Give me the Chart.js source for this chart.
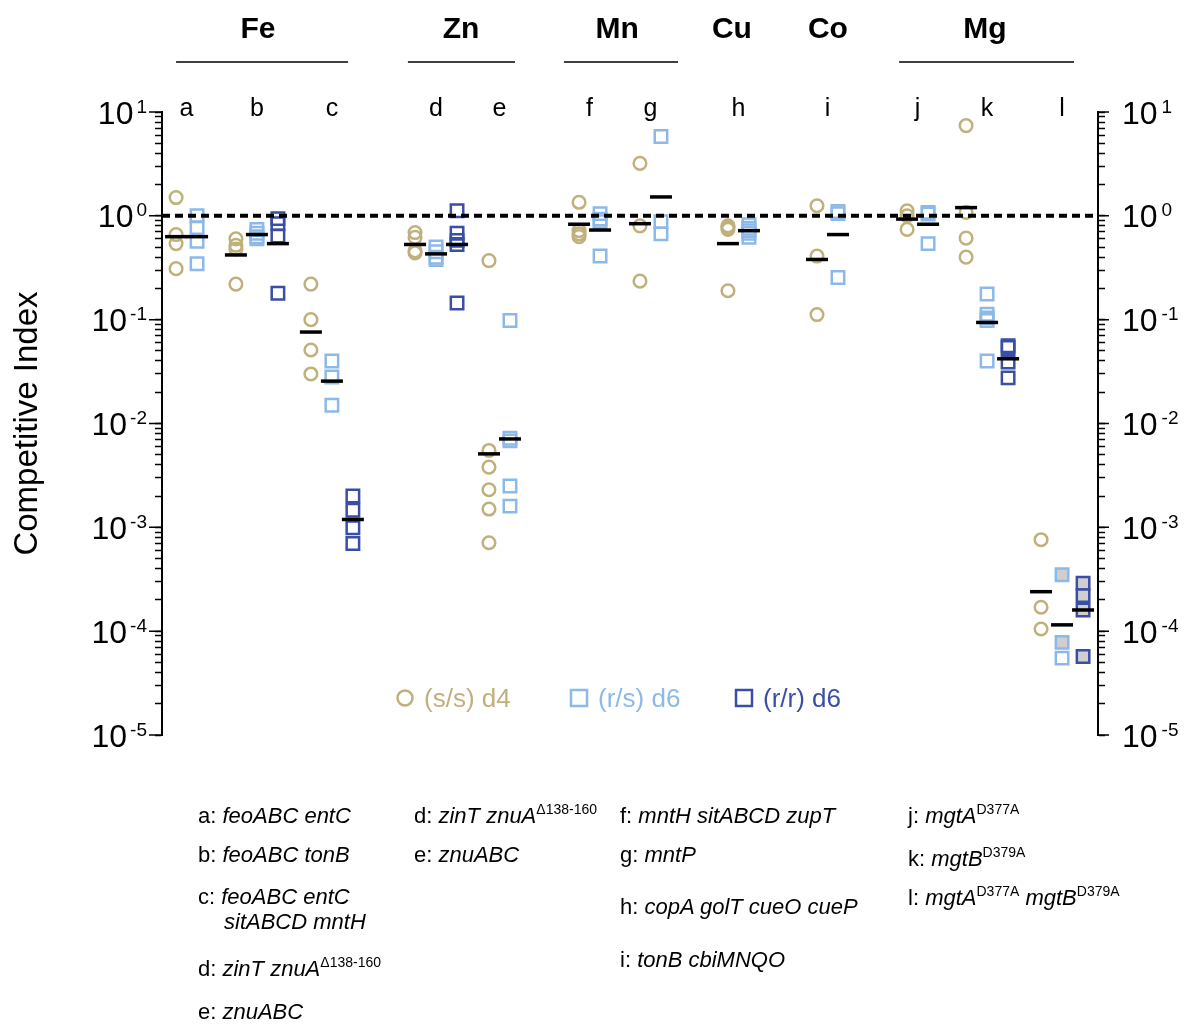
<!DOCTYPE html>
<html>
<head>
<meta charset="utf-8">
<script src="https://cdn.jsdelivr.net/npm/chart.js@4.4.1/dist/chart.umd.min.js"></script>
<style>
  html, body { margin: 0; padding: 0; background: #fff; }
  #wrap { position: relative; width: 1191px; height: 1024px; }
  #chart { position: absolute; left: 0; top: 0; }
  .note { position: absolute; font: 22px "Liberation Sans", Arial, sans-serif; line-height: 22px; white-space: nowrap; color: #000; }
  .note sup { font-size: 14px; font-style: normal; vertical-align: 9px; line-height: 0; }
</style>
</head>
<body>
<div id="wrap">
  <canvas id="chart" width="1191" height="1024" style="width:1191px;height:1024px"></canvas>

  <div class="note" style="left:198px;top:805px">a: <i>feoABC entC</i></div>
  <div class="note" style="left:198px;top:844px">b: <i>feoABC tonB</i></div>
  <div class="note" style="left:198px;top:886px">c: <i>feoABC entC</i></div>
  <div class="note" style="left:224px;top:911px"><i>sitABCD mntH</i></div>
  <div class="note" style="left:198px;top:958px">d: <i>zinT znuA</i><sup>Δ138-160</sup></div>
  <div class="note" style="left:198px;top:1001px">e: <i>znuABC</i></div>

  <div class="note" style="left:414px;top:805px">d: <i>zinT znuA</i><sup>Δ138-160</sup></div>
  <div class="note" style="left:414px;top:844px">e: <i>znuABC</i></div>

  <div class="note" style="left:620px;top:805px">f: <i>mntH sitABCD zupT</i></div>
  <div class="note" style="left:620px;top:844px">g: <i>mntP</i></div>
  <div class="note" style="left:620px;top:896px">h: <i>copA golT cueO cueP</i></div>
  <div class="note" style="left:620px;top:949px">i: <i>tonB cbiMNQO</i></div>

  <div class="note" style="left:908px;top:805px">j: <i>mgtA</i><sup>D377A</sup></div>
  <div class="note" style="left:908px;top:848px">k: <i>mgtB</i><sup>D379A</sup></div>
  <div class="note" style="left:908px;top:887px">l: <i>mgtA</i><sup>D377A</sup> <i>mgtB</i><sup>D379A</sup></div>
</div>

<script>
// --- data ---
const categories = ['a', 'b', 'c', 'd', 'e', 'f', 'g', 'h', 'i', 'j', 'k', 'l']

// (s/s) d4, circles
const ssD4 = [
  [1.5, 0.66, 0.54, 0.31],
  [0.6, 0.52, 0.48, 0.22],
  [0.22, 0.1, 0.051, 0.03],
  [0.69, 0.62, 0.46, 0.44],
  [0.37, 0.0055, 0.0038, 0.0023, 0.0015, 0.00071],
  [1.35, 0.72, 0.67, 0.63],
  [3.2, 0.8, 0.235],
  [0.8, 0.77, 0.74, 0.19],
  [1.25, 0.41, 0.112],
  [1.12, 1.0, 0.74],
  [7.4, 1.08, 0.61, 0.4],
  [7.6e-4, 1.7e-4, 1.05e-4]
]
const ssD4Median = [0.63, 0.42, 0.076, 0.53, 0.0051, 0.83, 0.84, 0.54, 0.38, 0.93, 1.2, 2.4e-4]

// (r/s) d6, light squares
const rsD6 = [
  [1.0, 0.77, 0.57, 0.345],
  [0.74, 0.68, 0.63, 0.6],
  [0.04, 0.028, 0.015],
  [0.5, 0.45, 0.4, 0.38],
  [0.098, 0.0072, 0.0068, 0.0025, 0.0016],
  [1.05, 0.93, 0.88, 0.41],
  [5.8, 0.88, 0.67],
  [0.82, 0.76, 0.72, 0.68, 0.62],
  [1.1, 1.05, 0.255],
  [1.08, 1.04, 0.54],
  [0.177, 0.113, 0.104, 0.098, 0.04],
  [3.5e-4, 7.8e-5, 5.5e-5]
]
const rsD6Median = [0.63, 0.66, 0.0256, 0.43, 0.0071, 0.73, 1.52, 0.72, 0.66, 0.83, 0.094, 1.15e-4]

// (r/r) d6, dark squares
const rrD6 = [
  [],
  [0.94, 0.84, 0.64, 0.18],
  [0.002, 0.00146, 0.00099, 0.0007],
  [1.12, 0.68, 0.58, 0.53, 0.145],
  [], [], [], [], [], [],
  [0.056, 0.054, 0.039, 0.0275],
  [2.9e-4, 2.2e-4, 1.6e-4, 5.7e-5]
]
const rrD6Median = [null, 0.54, 0.00119, 0.53, null, null, null, null, null, null, 0.042, 1.6e-4]

// points drawn with a grey fill (series-category : point indexes)
const shaded = { 'rs-l': [0, 1], 'rr-l': [0, 1, 2, 3] }

const seriesLabels = ['(s/s) d4', '(r/s) d6', '(r/r) d6']
const tickExponents = [1, 0, -1, -2, -3, -4, -5]
const groupNames = ['Fe', 'Zn', 'Mn', 'Cu', 'Co', 'Mg']

// --- layout ---
const FONT = '"Liberation Sans", Arial, sans-serif'
const TAN = '#c0b07b'
const LIGHT = '#8cb9e7'
const DARK = '#3a4ea6'
const GRAY = '#cfcfcf'
const SLOT = 21                 // px per x unit
const X_MAX = 936 / SLOT
// x of each category's first series
const catSlot = [0.67, 3.52, 7.09, 12.05, 15.57, 19.86, 22.76, 26.95, 31.19, 35.48, 38.29, 41.86]
// group label x, underline from / to (x units, null = no line)
const groupLayout = [
  [4.57, 0.67, 8.86], [14.24, 11.71, 16.81], [21.67, 19.14, 24.57],
  [27.14, null, null], [31.71, null, null], [39.19, 35.1, 43.43]
]

Chart.defaults.font.family = FONT
Chart.defaults.color = '#000'

const seriesValues = [ssD4, rsD6, rrD6]
const seriesMedians = [ssD4Median, rsD6Median, rrD6Median]
const seriesKeys = ['ss', 'rs', 'rr']
const nSeries = categories.map((c, i) => seriesValues.filter(s => s[i].length).length)

function toPoints(s) {
  const pts = []
  seriesValues[s].forEach((vals, i) => {
    const sh = shaded[seriesKeys[s] + '-' + categories[i]] || []
    vals.forEach((v, j) => pts.push({ x: catSlot[i] + s, y: v, shaded: sh.includes(j) }))
  })
  return pts
}

const medianPoints = []
seriesMedians.forEach((meds, s) => meds.forEach((m, i) => {
  if (m != null) medianPoints.push({ x: catSlot[i] + s, y: m })
}))

function pointSet(s, color, style, radius) {
  return {
    type: 'scatter',
    label: seriesLabels[s],
    data: toPoints(s),
    pointStyle: style,
    pointRadius: radius,
    pointHoverRadius: radius,
    pointBorderWidth: 2.5,
    pointHoverBorderWidth: 2.5,
    borderColor: color,
    pointBorderColor: color,
    pointBackgroundColor: c => (c.raw && c.raw.shaded) ? GRAY : 'rgba(0,0,0,0)',
    clip: false,
    order: 3
  }
}

function logTicks() {
  const t = []
  for (let e = -5; e < 1; e++) {
    for (let k = 1; k < 10; k++) t.push({ value: k * Math.pow(10, e) })
  }
  t.push({ value: 10 })
  return t
}

const decorations = {
  id: 'decorations',
  afterDraw(chart) {
    const { ctx, chartArea, scales: { x, y } } = chart
    ctx.save()
    ctx.strokeStyle = '#000'
    ctx.fillStyle = '#000'

    // longer major ticks + labels on both axes
    ctx.lineWidth = 1.5
    tickExponents.forEach(e => {
      const py = y.getPixelForValue(Math.pow(10, e))
      ctx.beginPath()
      ctx.moveTo(chartArea.left - 13, py); ctx.lineTo(chartArea.left, py)
      ctx.moveTo(chartArea.right, py); ctx.lineTo(chartArea.right + 11, py)
      ctx.stroke()

      const sup = String(e)
      ctx.font = '32px ' + FONT
      const wBase = ctx.measureText('10').width
      ctx.font = '19px ' + FONT
      const wSup = ctx.measureText(sup).width
      ctx.textAlign = 'left'
      ctx.textBaseline = 'alphabetic'
      // left
      let xs = 147 - wSup
      ctx.fillText(sup, xs, py + 0.5)
      ctx.font = '32px ' + FONT
      ctx.fillText('10', xs - 3 - wBase, py + 11.5)
      // right
      const xr = chartArea.right + 24
      ctx.fillText('10', xr, py + 11.5)
      ctx.font = '19px ' + FONT
      ctx.fillText(sup, xr + wBase + 4, py + 0.5)
    })

    // category letters
    ctx.font = '25px ' + FONT
    ctx.textAlign = 'center'
    categories.forEach((c, i) => {
      ctx.fillText(c, x.getPixelForValue(catSlot[i] + (nSeries[i] - 1) / 2), 116)
    })

    // metal groups
    ctx.font = 'bold 30px ' + FONT
    ctx.lineWidth = 1.5
    groupNames.forEach((g, i) => {
      const [lx, from, to] = groupLayout[i]
      ctx.fillText(g, x.getPixelForValue(lx), 38)
      if (from != null) {
        ctx.beginPath()
        ctx.moveTo(x.getPixelForValue(from), 62)
        ctx.lineTo(x.getPixelForValue(to), 62)
        ctx.stroke()
      }
    })

    // legend inside the plot
    const legX = [405, 579, 744]
    const colors = [TAN, LIGHT, DARK]
    ctx.font = '26px ' + FONT
    ctx.textAlign = 'left'
    ctx.lineWidth = 2.5
    seriesLabels.forEach((lab, s) => {
      ctx.strokeStyle = colors[s]
      ctx.fillStyle = colors[s]
      ctx.beginPath()
      if (s === 0) ctx.arc(legX[s], 698, 7.5, 0, Math.PI * 2)
      else ctx.rect(legX[s] - 8, 690, 16, 16)
      ctx.stroke()
      ctx.fillText(lab, legX[s] + 19, 707)
    })
    ctx.restore()
  }
}

const yCommon = {
  type: 'logarithmic',
  min: 1e-5,
  max: 10,
  afterBuildTicks: scale => { scale.ticks = logTicks() },
  ticks: { display: false, autoSkip: false },
  grid: { drawOnChartArea: false, drawTicks: true, tickLength: 7, tickColor: '#000', tickWidth: 1.5 },
  border: { color: '#000', width: 2 }
}

new Chart(document.getElementById('chart'), {
  data: {
    datasets: [
      {
        type: 'line',
        data: [{ x: 0, y: 1 }, { x: X_MAX, y: 1 }],
        borderColor: '#000',
        borderWidth: 4,
        borderDash: [8, 5],
        pointRadius: 0,
        order: 0
      },
      {
        type: 'scatter',
        data: medianPoints,
        pointStyle: 'line',
        pointRadius: 11,
        pointHoverRadius: 11,
        pointBorderWidth: 3.5,
        pointHoverBorderWidth: 3.5,
        borderColor: '#000',
        pointBorderColor: '#000',
        clip: false,
        order: 1
      },
      pointSet(0, TAN, 'circle', 6.3),
      pointSet(1, LIGHT, 'rect', 8.8),
      pointSet(2, DARK, 'rect', 8.8)
    ]
  },
  options: {
    responsive: false,
    animation: false,
    events: [],
    layout: { padding: { left: 0, right: 0, top: 112, bottom: 289 } },
    plugins: { legend: { display: false }, tooltip: { enabled: false } },
    scales: {
      x: { type: 'linear', min: 0, max: X_MAX, display: false },
      y: {
        ...yCommon,
        position: 'left',
        afterFit: scale => { scale.width = 162 },
        title: { display: true, text: 'Competitive Index', font: { size: 33 }, color: '#000', padding: { top: 8, bottom: 0 } }
      },
      y2: {
        ...yCommon,
        position: 'right',
        afterFit: scale => { scale.width = 93 }
      }
    }
  },
  plugins: [decorations]
})
</script>
</body>
</html>
